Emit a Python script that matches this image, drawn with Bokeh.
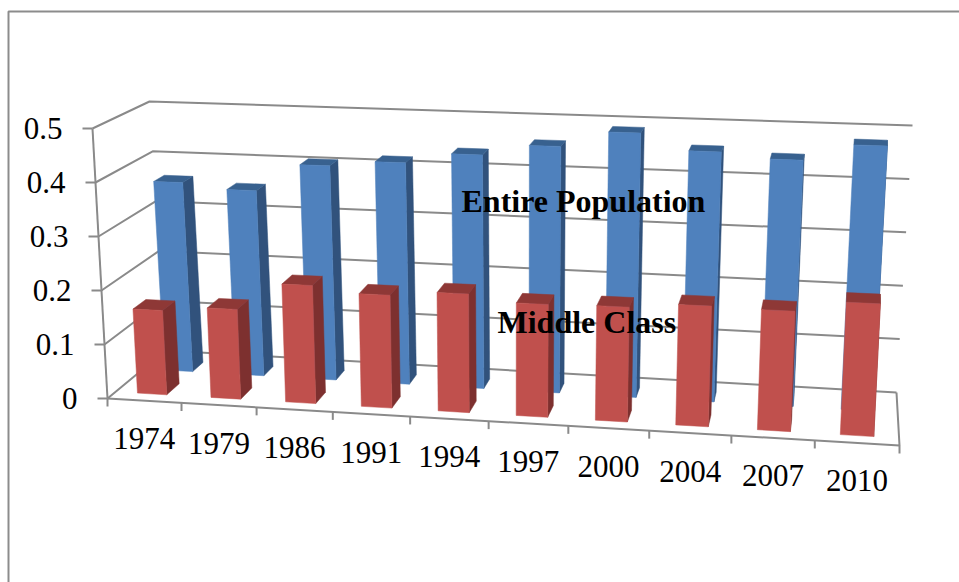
from bokeh.plotting import figure
from bokeh.models import Range1d
from bokeh.core.properties import value
from bokeh.embed import file_html
from bokeh.resources import INLINE

years = ["1974", "1979", "1986", "1991", "1994", "1997", "2000", "2004", "2007", "2010"]
entire_population = [0.366, 0.356, 0.409, 0.420, 0.440, 0.461, 0.491, 0.461, 0.451, 0.482]
middle_class = [0.157, 0.166, 0.217, 0.206, 0.215, 0.203, 0.205, 0.214, 0.212, 0.232]
value_ticks = [0, 0.1, 0.2, 0.3, 0.4, 0.5]
value_labels = ["0", "0.1", "0.2", "0.3", "0.4", "0.5"]
VMAX = 0.5

# Camera of the 3-D scene: (u along years, v up, w into the page) -> page pixels
CORNERS = {
    (0, 0, 0): (107, 398), (0, 1, 0): (92, 128),
    (1, 0, 0): (899, 445), (1, 1, 0): (914, 155),
    (0, 0, 1): (165, 350), (0, 1, 1): (149, 101),
    (1, 0, 1): (896, 392), (1, 1, 1): (912, 125),
}
PERSP = 0.078


def warp(u):
    return u / (1 + PERSP * (1 - u))


def project(u, val, w):
    uu, vv = warp(u), val / VMAX
    px = py = 0.0
    for (a, b, c), (cx, cy) in CORNERS.items():
        k = (uu if a else 1 - uu) * (vv if b else 1 - vv) * (w if c else 1 - w)
        px += k * cx
        py += k * cy
    return px, py


p = figure(width=959, height=582, x_range=Range1d(0, 959), y_range=Range1d(582, 0),
           x_axis_type=None, y_axis_type=None, toolbar_location=None,
           output_backend="svg", min_border=0, outline_line_color=None,
           background_fill_color="white", border_fill_color="white")

GRAY = "#8a8a8a"


def polyline(points, color=GRAY, width=2.0):
    p.line([q[0] for q in points], [q[1] for q in points], line_color=color, line_width=width)


# Outer frame of the chart area
polyline([(8, 582), (8, 11), (959, 11)], "#8c8c8c", 2.0)

# Walls and floor
for t in value_ticks:
    polyline([project(0, t, 0), project(0, t, 1), project(1, t, 1)])
polyline([project(0, 0, 0), project(0, VMAX, 0)])
polyline([project(0, 0, 0), project(1, 0, 0), project(1, 0, 1)])

# Ticks
for t in value_ticks:
    x, y = project(0, t, 0)
    polyline([(x - 10, y), (x, y)])
for i in range(len(years) + 1):
    x, y = project(i / len(years), 0, 0)
    polyline([(x, y), (x, y + 8)])


def quad(pts, color):
    p.patch([q[0] for q in pts], [q[1] for q in pts], fill_color=color, line_color=color, line_width=0.5)


def bar(i, val, w0, w1, front, side, top):
    n = len(years)
    u0, u1 = (i + 0.3) / n, (i + 0.7) / n
    quad([project(u1, 0, w0), project(u1, 0, w1), project(u1, val, w1), project(u1, val, w0)], side)
    quad([project(u0, val, w0), project(u1, val, w0), project(u1, val, w1), project(u0, val, w1)], top)
    quad([project(u0, 0, w0), project(u1, 0, w0), project(u1, val, w0), project(u0, val, w0)], front)


for i, val in enumerate(entire_population):
    bar(i, val, 0.62, 0.81, "#4f81bd", "#31527c", "#38618f")
for i, val in enumerate(middle_class):
    bar(i, val, 0.14, 0.37, "#c0504d", "#7d302f", "#8e3836")

SERIF = value("Liberation Serif")

# Value-axis labels
for t, lab in zip(value_ticks, value_labels):
    x, y = project(0, t, 0)
    p.text([x - 30], [y], text=[lab], text_font=SERIF, text_font_size=value("31px"),
           text_align="right", text_baseline="middle", text_color="black")

# Year labels
for i, lab in enumerate(years):
    x, y = project((i + 0.5) / len(years), 0, 0)
    p.text([x], [y + 38], text=[lab], text_font=SERIF, text_font_size=value("31px"),
           text_align="center", text_baseline="middle", text_color="black")

# Series names
p.text([461], [200], text=["Entire Population"], text_font=SERIF, text_font_size=value("32px"),
       text_font_style="bold", text_align="left", text_baseline="middle", text_color="black")
p.text([497], [321], text=["Middle Class"], text_font=SERIF, text_font_size=value("32px"),
       text_font_style="bold", text_align="left", text_baseline="middle", text_color="black")

open("out.html", "w").write(file_html(p, INLINE))
